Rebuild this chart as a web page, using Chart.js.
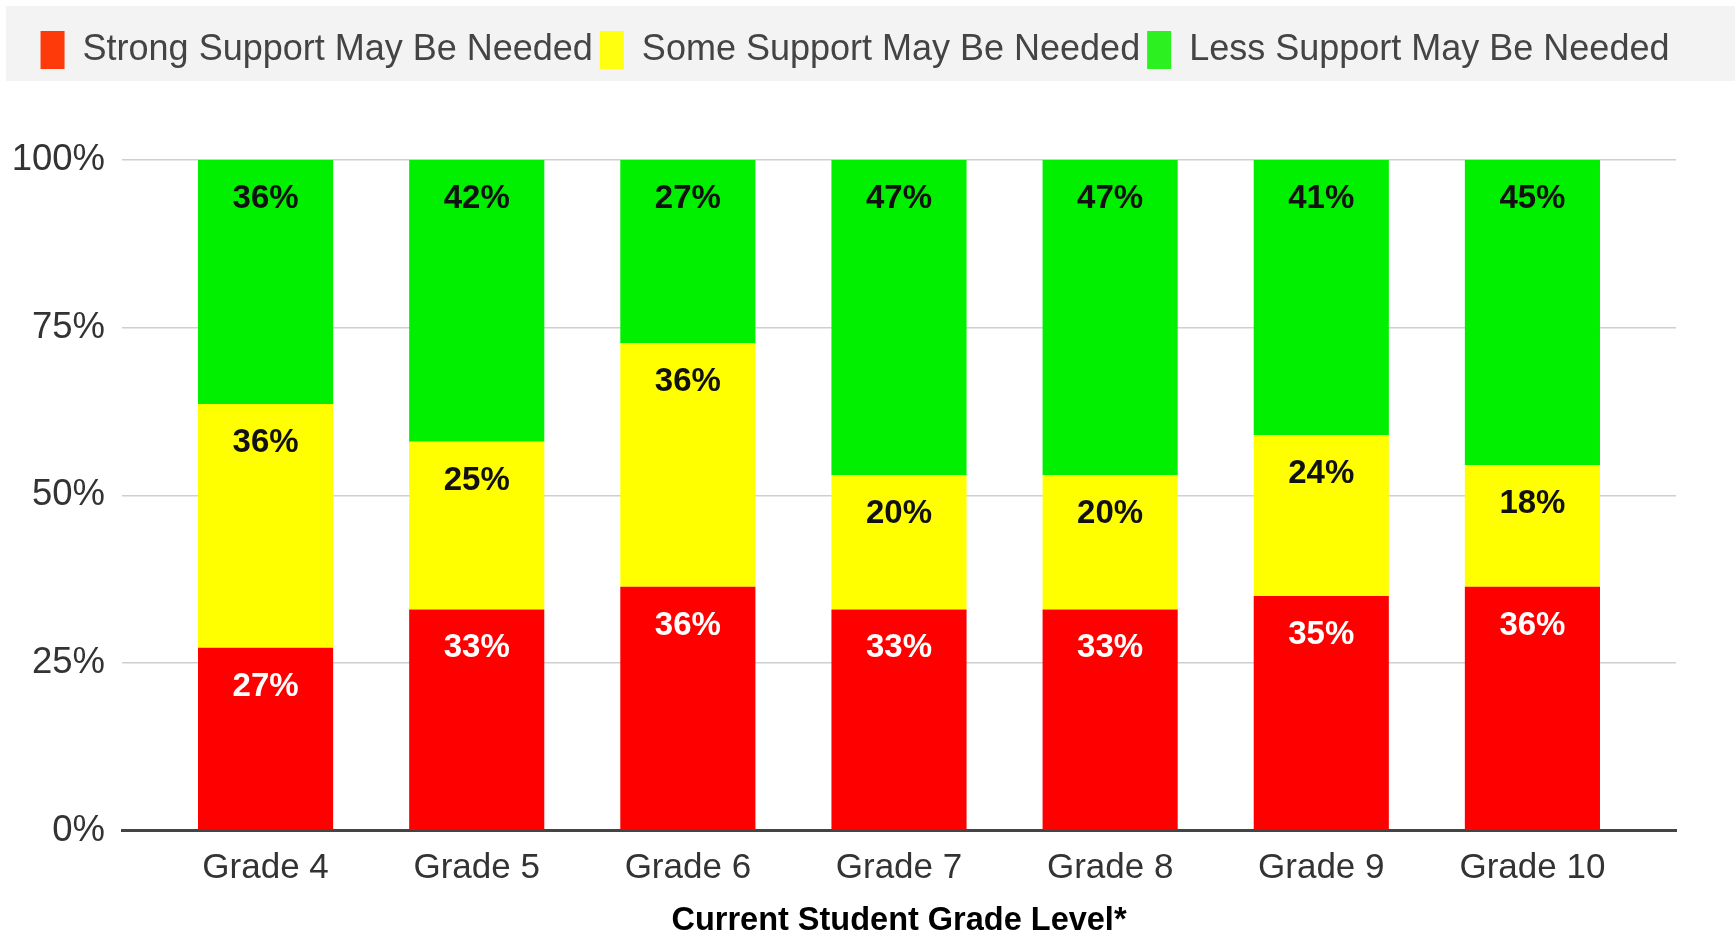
<!DOCTYPE html>
<html><head><meta charset="utf-8">
<script src="https://cdn.jsdelivr.net/npm/chart.js@4.4.1/dist/chart.umd.min.js"></script>
<style>html,body{margin:0;padding:0;background:#fff;}#wrap{width:1735px;height:936px;position:relative}</style>
</head><body><div id="wrap"><canvas id="c"></canvas></div>
<script>
const categories = ['Grade 4', 'Grade 5', 'Grade 6', 'Grade 7', 'Grade 8', 'Grade 9', 'Grade 10'];
const seriesNames = ['Strong Support May Be Needed', 'Some Support May Be Needed', 'Less Support May Be Needed'];
const strongSupport = [27, 33, 36, 33, 33, 35, 36];
const someSupport = [36, 25, 36, 20, 20, 24, 18];
const lessSupport = [36, 42, 27, 47, 47, 41, 45];
const yTickValues = [0, 25, 50, 75, 100];
const xAxisTitle = 'Current Student Grade Level*';

const barColors = ['#fe0000', '#ffff00', '#00f000'];
const legendColors = ['#ff3a0a', '#ffff10', '#2cf020'];
const series = [strongSupport, someSupport, lessSupport];
const totals = categories.map((_, i) => series.reduce((s, arr) => s + arr[i], 0));

const datasets = series.map((arr, si) => ({
  label: seriesNames[si],
  data: arr.map((v, i) => ({ x: i, y: v / totals[i] * 100 })),
  backgroundColor: barColors[si],
  borderWidth: 0,
  barPercentage: 0.64,
  categoryPercentage: 1
}));

const legendSpacer = {
  id: 'legendSpacer',
  beforeInit(chart) {
    const orig = chart.legend.fit;
    chart.legend.fit = function () {
      orig.call(this);
      this.height += 81;
      if (this.lineWidths && this.lineWidths.length) this.lineWidths[0] += 25;
    };
  }
};

const legendBand = {
  id: 'legendBand',
  beforeDraw(chart) {
    const ctx = chart.ctx;
    ctx.save();
    ctx.fillStyle = '#f3f3f3';
    ctx.fillRect(6, 6, chart.width - 6, 75);
    ctx.restore();
  }
};

const segmentLabels = {
  id: 'segmentLabels',
  afterDatasetsDraw(chart) {
    const ctx = chart.ctx;
    ctx.save();
    ctx.font = 'bold 33px "Liberation Sans", Arial, sans-serif';
    ctx.textAlign = 'center';
    ctx.textBaseline = 'middle';
    chart.data.datasets.forEach((ds, di) => {
      const meta = chart.getDatasetMeta(di);
      meta.data.forEach((bar, i) => {
        const top = Math.min(bar.y, bar.base);
        ctx.fillStyle = di === 0 ? '#ffffff' : '#111111';
        ctx.fillText(series[di][i] + '%', bar.x, top + 39);
      });
    });
    ctx.restore();
  }
};

new Chart(document.getElementById('c'), {
  type: 'bar',
  data: { datasets },
  plugins: [legendSpacer, legendBand, segmentLabels],
  options: {
    responsive: true,
    maintainAspectRatio: false,
    animation: false,
    layout: { padding: { top: 24, left: 0, right: 0, bottom: 0 } },
    plugins: {
      tooltip: { enabled: false },
      legend: {
        position: 'top',
        align: 'center',
        labels: {
          boxWidth: 24,
          boxHeight: 38,
          padding: 7,
          color: '#444',
          font: { family: '"Liberation Sans", Arial, sans-serif', size: 36 },
          generateLabels(chart) {
            return chart.data.datasets.map((ds, i) => ({
              text: ds.label, fillStyle: legendColors[i], strokeStyle: legendColors[i],
              lineWidth: 0, hidden: false, datasetIndex: i, fontColor: '#444'
            }));
          }
        }
      }
    },
    scales: {
      x: {
        type: 'linear',
        offset: false,
        stacked: true,
        min: -0.68,
        max: 6.68,
        z: 1,
        grid: { display: false, drawTicks: false },
        border: { display: true, color: '#444', width: 3 },
        afterBuildTicks(scale) { scale.ticks = categories.map((_, i) => ({ value: i })); },
        ticks: {
          autoSkip: false, maxRotation: 0, minRotation: 0, padding: 17,
          color: '#333',
          font: { family: '"Liberation Sans", Arial, sans-serif', size: 35 },
          callback: (v) => categories[v] ?? ''
        },
        title: {
          display: true,
          text: xAxisTitle,
          color: '#000',
          font: { family: '"Liberation Sans", Arial, sans-serif', size: 32.5, weight: 'bold', lineHeight: 0.9 },
          padding: { top: 0, bottom: 0 }
        }
      },
      y: {
        stacked: true,
        min: 0,
        max: 100,
        afterBuildTicks(scale) { scale.ticks = yTickValues.map(v => ({ value: v })); },
        afterFit(scale) { scale.width = 122; },
        grid: { color: '#cfcfcf', lineWidth: 1.5, drawTicks: false },
        border: { display: false },
        ticks: {
          padding: 17,
          color: '#333',
          font: { family: '"Liberation Sans", Arial, sans-serif', size: 36.5 },
          callback: (v) => v + '%'
        }
      },
      rightSpace: {
        type: 'linear',
        position: 'right',
        display: true,
        grid: { display: false, drawTicks: false },
        border: { display: false },
        ticks: { display: false },
        afterFit(scale) { scale.width = 59; }
      }
    }
  }
});
</script>
</body></html>
